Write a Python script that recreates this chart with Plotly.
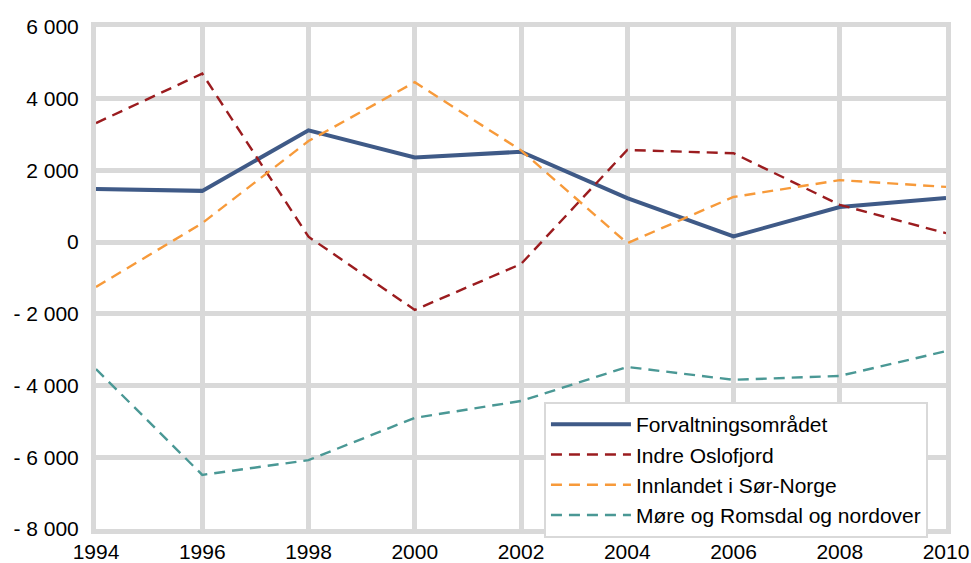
import plotly.graph_objects as go

years = [1994, 1996, 1998, 2000, 2002, 2004, 2006, 2008, 2010]

forvaltning = [1480, 1430, 3120, 2360, 2520, 1230, 160, 980, 1230]
indre_oslofjord = [3320, 4700, 150, -1890, -610, 2570, 2480, 1040, 250]
innlandet = [-1250, 530, 2820, 4460, 2560, -30, 1260, 1730, 1540]
more_nordover = [-3540, -6490, -6080, -4900, -4430, -3480, -3840, -3730, -3040]

y_ticks = [-8000, -6000, -4000, -2000, 0, 2000, 4000, 6000]
y_labels = ["- 8 000", "- 6 000", "- 4 000", "- 2 000", "0", "2 000", "4 000", "6 000"]

grid = "#d9d9d9"
dash = "11px,7px"

fig = go.Figure()
fig.add_trace(go.Scatter(x=years, y=forvaltning, mode="lines", name="Forvaltningsområdet",
                         line=dict(color="#3f5a87", width=4)))
fig.add_trace(go.Scatter(x=years, y=indre_oslofjord, mode="lines", name="Indre Oslofjord",
                         line=dict(color="#9b1c1f", width=2.4, dash=dash)))
fig.add_trace(go.Scatter(x=years, y=innlandet, mode="lines", name="Innlandet i Sør-Norge",
                         line=dict(color="#f79a3a", width=2.4, dash=dash)))
fig.add_trace(go.Scatter(x=years, y=more_nordover, mode="lines", name="Møre og Romsdal og nordover",
                         line=dict(color="#4a9895", width=2.4, dash=dash)))

fig.update_layout(
    width=971, height=563,
    margin=dict(l=96, r=25, t=27, b=34),
    paper_bgcolor="white", plot_bgcolor="white",
    font=dict(family="Liberation Sans, Arial, sans-serif", size=21, color="#000000"),
    legend=dict(x=0.527, y=0.253, xanchor="left", yanchor="top",
                bgcolor="white", bordercolor="#d9d9d9", borderwidth=2,
                font=dict(size=21), tracegroupgap=0, itemwidth=80),
    xaxis=dict(range=[1994, 2010], tickvals=years, ticks="", showgrid=True,
               gridcolor=grid, gridwidth=5, showline=True, linecolor=grid,
               linewidth=5, mirror=True, zeroline=False, ticklabelstandoff=0,
               automargin=False),
    yaxis=dict(range=[-8000, 6000], tickvals=y_ticks, ticktext=y_labels, ticks="",
               showgrid=True, gridcolor=grid, gridwidth=5, showline=True,
               linecolor=grid, linewidth=5, mirror=True, zeroline=False,
               ticklabelstandoff=8, automargin=False),
)

# drop the page's default body margin so the figure sits at the window corner
fig.write_html("out.html", config={"displayModeBar": False},
               post_script="document.body.style.margin='0';")
